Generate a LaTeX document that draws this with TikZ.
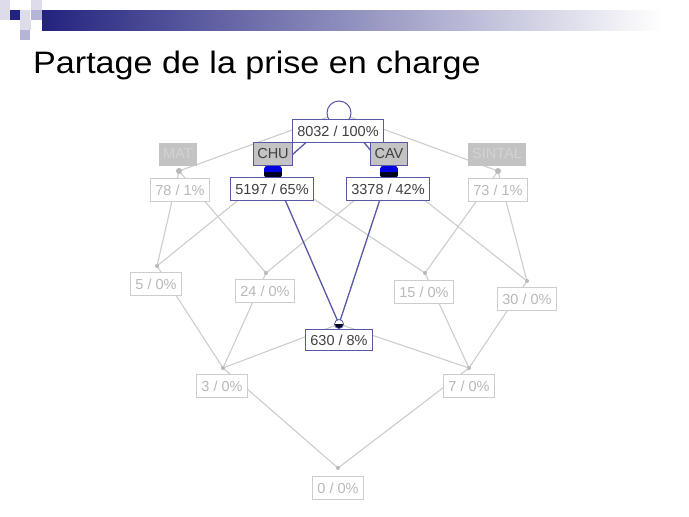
\documentclass[tikz,border=0pt]{standalone}
\usepackage{fontspec}
\setmainfont{Liberation Sans}
\newfontfamily\titlefont[FakeStretch=1.1]{Liberation Sans}
\usetikzlibrary{positioning}
\definecolor{barnavy}{HTML}{23237F}
\definecolor{lattline}{HTML}{CDCDCD}
\definecolor{lattblue}{HTML}{5858A6}
\definecolor{nodetext}{HTML}{404040}
\definecolor{fadetext}{HTML}{B8B8B8}
\definecolor{labelgray}{HTML}{C3C3C3}
\definecolor{hidetext}{HTML}{D3D3D3}
\definecolor{dotblue}{HTML}{0000E0}
\definecolor{lavender}{HTML}{B4B4D6}
\definecolor{palelav}{HTML}{DCDCEA}

\tikzset{
  concept/.style={draw=lattline, fill=white, text=fadetext, line width=1.1pt,
    font=\fontsize{14.5}{16}\selectfont, inner xsep=4.7pt, inner ysep=0pt,
    minimum height=23pt},
  active/.style={concept, draw=lattblue, text=nodetext},
  attrib/.style={fill=labelgray, text=hidetext, inner xsep=4pt, inner ysep=0pt,
    font=\fontsize{14.5}{16}\selectfont, minimum height=23pt},
  attribon/.style={attrib, draw=lattblue, line width=1.1pt, text=nodetext},
  link/.style={lattline, line width=1.1pt},
  bluelink/.style={lattblue, line width=1.3pt},
  graydot/.style={circle, fill=gray!55, inner sep=0pt, minimum size=#1},
  halfdot/.style={circle, inner sep=0pt, minimum size=#1, path picture={
    \fill[dotblue] (path picture bounding box.north west) rectangle (path picture bounding box.east);
    \fill[black!85!blue] (path picture bounding box.west) rectangle (path picture bounding box.south east);}},
  bottomdot/.style={circle, draw=lattblue, fill=white, line width=0.8pt, inner sep=0pt,
    minimum size=9pt, path picture={\fill[black!85!blue] (path picture bounding box.west)
    rectangle (path picture bounding box.south east);}},
}

\begin{document}
\begin{tikzpicture}[x=1pt, y=-1pt]
\useasboundingbox[fill=white] (0,0) rectangle (689,517);

% Slide header
\shade[left color=barnavy, right color=white] (42,10) rectangle (662,30);
\fill[palelav] (0,0) rectangle (10,20);
\fill[barnavy] (10,10) rectangle (20,20);
\fill[palelav] (20,10) rectangle (30,20);
\fill[palelav] (31,0) rectangle (42,10);
\fill[lavender] (31,10) rectangle (42,20);
\fill[palelav] (20,20) rectangle (31,30);
\fill[lavender] (20,30) rectangle (30,40);
\node[anchor=base west, inner sep=0pt, font=\titlefont\fontsize{31}{36}\selectfont] (title)
    at (33,73) {Partage de la prise en charge};

% Concept points
\coordinate (dTop) at (339,113);
\coordinate (dMat) at (179,171);
\coordinate (dChu) at (273,172);
\coordinate (dCav) at (389,172);
\coordinate (dSin) at (498,171);
\coordinate (d5)   at (157,266);
\coordinate (d24)  at (266,273);
\coordinate (d15)  at (425,273);
\coordinate (d30)  at (527,281);
\coordinate (d630) at (339,324);
\coordinate (d3)   at (223,368);
\coordinate (d7)   at (469,368);
\coordinate (d0)   at (338,468);

% Lattice edges
\foreach \a/\b in {dTop/dMat, dTop/dSin, dMat/d5, dMat/d24, dChu/d5, dChu/d15,
    dCav/d24, dCav/d30, dSin/d15, dSin/d30, d5/d3, d24/d3, d630/d3,
    d15/d7, d30/d7, d630/d7, d3/d0, d7/d0}{
  \draw[link] (\a) -- (\b);
}
\foreach \a/\b in {dTop/dChu, dTop/dCav, dChu/d630, dCav/d630}{
  \draw[bluelink] (\a) -- (\b);
}

% Dots
\node[circle, draw=lattblue, fill=white, line width=1pt, inner sep=0pt,
    minimum size=24pt] (pTop) at (dTop) {};
\node[halfdot=19pt] (pChu) at (dChu) {};
\node[halfdot=19pt] (pCav) at (dCav) {};
\node[graydot=6pt] (pMat) at (dMat) {};
\node[graydot=6pt] (pSin) at (dSin) {};
\foreach \p in {d5, d24, d15, d30, d3, d7, d0}{
  \node[graydot=4pt] at (\p) {};
}
\node[bottomdot] (p630) at (d630) {};

% Concept boxes
\node[active]  (cTop) at (338,131) {8032 / 100\%};
\node[concept] (c78)  at (180,190) {78 / 1\%};
\node[active]  (cChu) at (272,189) {5197 / 65\%};
\node[active]  (cCav) at (388,189) {3378 / 42\%};
\node[concept] (c73)  at (498,190) {73 / 1\%};
\node[concept] (c5)   at (156,284) {5 / 0\%};
\node[concept] (c24)  at (265,291) {24 / 0\%};
\node[concept] (c15)  at (424,292) {15 / 0\%};
\node[concept] (c30)  at (527,299) {30 / 0\%};
\node[active, minimum height=21pt] (c630) at (339,340) {630 / 8\%};
\node[concept] (c3)   at (222,386) {3 / 0\%};
\node[concept] (c7)   at (469,386) {7 / 0\%};
\node[concept] (c0)   at (338,488) {0 / 0\%};

% Attribute labels
\node[attrib]   (lMat) at (178,154) {MAT};
\node[attribon] (lChu) at (273,154) {CHU};
\node[attribon] (lCav) at (389,154) {CAV};
\node[attrib]   (lSin) at (497,154) {SINTAL};

\end{tikzpicture}
\end{document}
